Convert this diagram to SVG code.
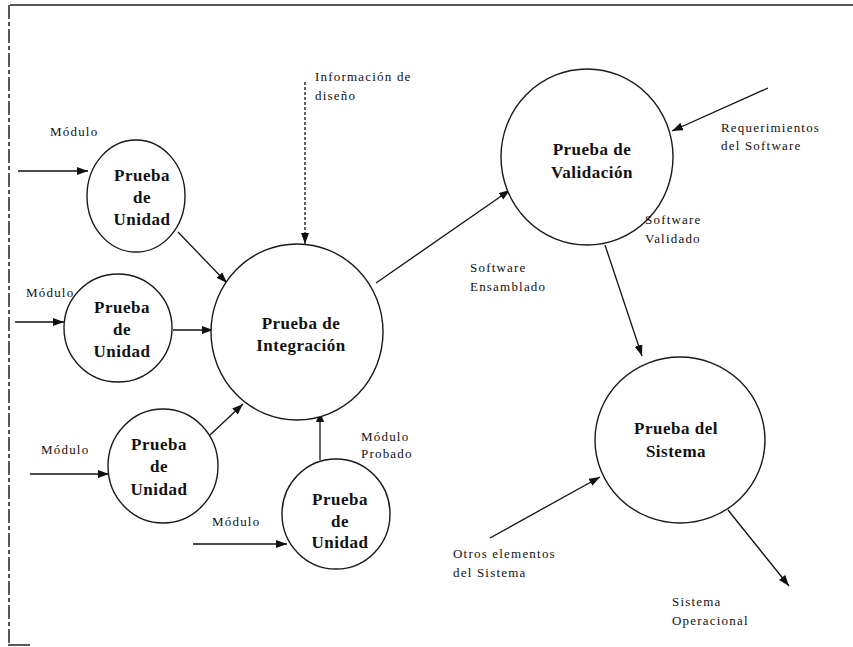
<svg xmlns="http://www.w3.org/2000/svg" width="853" height="647" viewBox="0 0 853 647">
<defs>
<marker id="ah" markerUnits="userSpaceOnUse" markerWidth="12" markerHeight="10" refX="11" refY="4" orient="auto">
<path d="M0,0 L11,4 L0,8 Z" fill="#111"/>
</marker>
<style>
.node{fill:#fff;stroke:#1a1a1a;stroke-width:1.4}
.b{font-family:"Liberation Serif","Times New Roman",serif;font-weight:bold;font-size:17px;fill:#111;text-anchor:middle;letter-spacing:0.5px}
.l{font-family:"Liberation Serif","Times New Roman",serif;font-size:13px;fill:#111;letter-spacing:1.2px}
.c{fill:none;stroke:#111;stroke-width:1.3}
.frame{fill:none;stroke:#222;stroke-width:1.5}
</style>
</defs>
<rect width="853" height="647" fill="#fff"/>
<g id="frame">
<path class="frame" d="M853,5 L10,5"/>
<path class="frame" d="M9,5 L9,645" stroke-dasharray="14,3,4,3"/>
<path class="frame" d="M8,645 L30,645"/>
</g>
<g id="connectors">
<line class="c" x1="18" y1="171" x2="88" y2="171" marker-end="url(#ah)"/>
<line class="c" x1="178" y1="232" x2="227" y2="283" marker-end="url(#ah)"/>
<line class="c" x1="15" y1="322" x2="64" y2="322" marker-end="url(#ah)"/>
<line class="c" x1="173" y1="330" x2="213" y2="330" marker-end="url(#ah)"/>
<line class="c" x1="30" y1="474" x2="109" y2="474" marker-end="url(#ah)"/>
<line class="c" x1="210" y1="435" x2="243" y2="404" marker-end="url(#ah)"/>
<line class="c" x1="193" y1="544" x2="287" y2="544" marker-end="url(#ah)"/>
<line class="c" x1="320" y1="460" x2="320" y2="411" marker-end="url(#ah)"/>
<line class="c" x1="305" y1="82" x2="305" y2="244" stroke-dasharray="3,2" marker-end="url(#ah)"/>
<line class="c" x1="376" y1="283" x2="510" y2="190" marker-end="url(#ah)"/>
<line class="c" x1="768" y1="88" x2="672" y2="131" marker-end="url(#ah)"/>
<line class="c" x1="605" y1="245" x2="642" y2="356" marker-end="url(#ah)"/>
<line class="c" x1="490" y1="538" x2="600" y2="477" marker-end="url(#ah)"/>
<line class="c" x1="728" y1="510" x2="789" y2="586" marker-end="url(#ah)"/>
</g>
<g id="unidad1">
<ellipse class="node" cx="136" cy="196" rx="49" ry="56"/>
<text class="b" x="142" y="181">Prueba</text>
<text class="b" x="142" y="203">de</text>
<text class="b" x="142" y="225">Unidad</text>
</g>
<g id="unidad2">
<ellipse class="node" cx="118" cy="328" rx="54" ry="54"/>
<text class="b" x="122" y="313">Prueba</text>
<text class="b" x="122" y="335">de</text>
<text class="b" x="122" y="357">Unidad</text>
</g>
<g id="unidad3">
<ellipse class="node" cx="163" cy="466" rx="55" ry="57"/>
<text class="b" x="159" y="450">Prueba</text>
<text class="b" x="159" y="472">de</text>
<text class="b" x="159" y="495">Unidad</text>
</g>
<g id="unidad4">
<ellipse class="node" cx="336" cy="514" rx="54" ry="55"/>
<text class="b" x="340" y="505">Prueba</text>
<text class="b" x="340" y="527">de</text>
<text class="b" x="340" y="548">Unidad</text>
</g>
<g id="integracion">
<ellipse class="node" cx="297" cy="332" rx="86" ry="88"/>
<text class="b" x="301" y="329">Prueba de</text>
<text class="b" x="301" y="351">Integración</text>
</g>
<g id="validacion">
<ellipse class="node" cx="587" cy="157" rx="86" ry="88"/>
<text class="b" x="592" y="155">Prueba de</text>
<text class="b" x="592" y="178">Validación</text>
</g>
<g id="sistema">
<ellipse class="node" cx="680" cy="440" rx="85" ry="83"/>
<text class="b" x="676" y="434">Prueba del</text>
<text class="b" x="676" y="457">Sistema</text>
</g>
<g id="labels">
<text class="l" x="50" y="136">Módulo</text>
<text class="l" x="26" y="297">Módulo</text>
<text class="l" x="41" y="454">Módulo</text>
<text class="l" x="212" y="526">Módulo</text>
<text class="l" x="361" y="441">Módulo</text>
<text class="l" x="361" y="458">Probado</text>
<text class="l" x="315" y="81">Información de</text>
<text class="l" x="315" y="100">diseño</text>
<text class="l" x="470" y="272">Software</text>
<text class="l" x="470" y="291">Ensamblado</text>
<text class="l" x="721" y="132">Requerimientos</text>
<text class="l" x="721" y="150">del Software</text>
<text class="l" x="645" y="224">Software</text>
<text class="l" x="645" y="243">Validado</text>
<text class="l" x="453" y="558">Otros elementos</text>
<text class="l" x="453" y="577">del Sistema</text>
<text class="l" x="672" y="606">Sistema</text>
<text class="l" x="672" y="625">Operacional</text>
</g>
</svg>
